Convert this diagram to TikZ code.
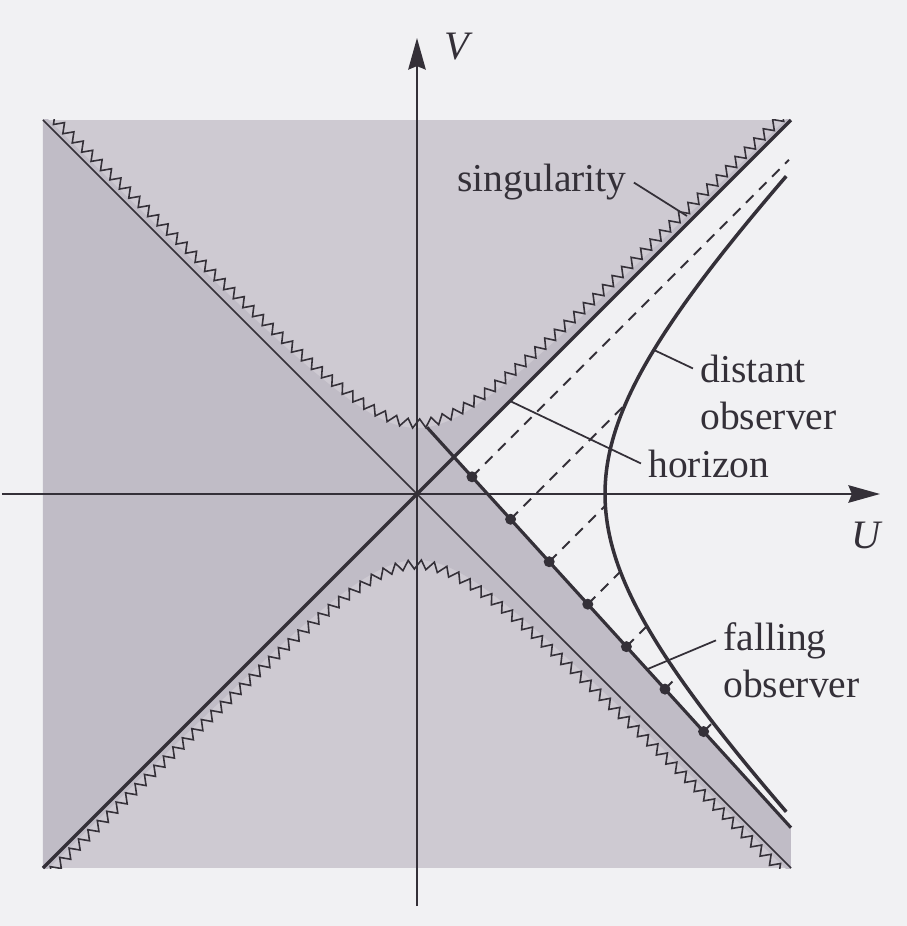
\documentclass[tikz,border=0pt]{standalone}
\usepackage{fontspec}
\setmainfont{Liberation Serif}
\usetikzlibrary{arrows.meta,decorations.pathmorphing,positioning}
\definecolor{ink}{RGB}{52,48,56}
\definecolor{paper}{RGB}{241,241,243}
\definecolor{greylight}{RGB}{206,202,210}
\definecolor{greydark}{RGB}{192,188,198}

\begin{document}
\begin{tikzpicture}[
  x=2cm, y=2cm,
  font=\fontsize{22.5}{26.6}\selectfont,
  axis/.style={draw=ink, line width=0.9pt, -{Stealth[length=18pt, width=10pt, inset=2pt]}},
  hline/.style={draw=ink, line width=2pt},
  pline/.style={draw=ink, line width=1pt},
  wline/.style={draw=ink, line width=1.8pt},
  ray/.style={draw=ink, line width=1.1pt, dash pattern=on 6pt off 4.5pt},
  lead/.style={draw=ink, line width=1pt},
  sing/.style={draw=ink, line width=0.9pt, decorate,
               decoration={zigzag, segment length=7.5pt, amplitude=2.6pt, raise=2.6pt}},
  lbl/.style={text=ink, inner xsep=4pt, inner ysep=0pt, anchor=base west}
]
\fill[paper] (-4.17,-4.32) rectangle (4.90,4.94);
\useasboundingbox (-4.17,-4.32) rectangle (4.90,4.94);

\fill[greylight] (-3.74,-3.74) rectangle (3.74,3.74);
\begin{scope}
  \clip (-3.74,-3.74) rectangle (3.74,3.74);
  \fill[greydark] plot[domain=-3.8:3.8, samples=60, smooth] (\x,{sqrt(\x*\x+0.4356)})
     -- plot[domain=3.8:-3.8, samples=60, smooth] (\x,{-sqrt(\x*\x+0.4356)}) -- cycle;
\end{scope}
\fill[paper] (0.37,0.37) -- (3.74,3.74) -- (3.74,-3.337) -- cycle;

\draw[axis] (0,-4.12) -- (0,4.56);
\draw[axis] (-4.15,0) -- (4.63,0);
\node[lbl, anchor=center, font=\fontsize{23}{27}\selectfont\itshape] (vl) at (0.40,4.47) {V};
\node[lbl, anchor=center, font=\fontsize{23}{27}\selectfont\itshape] (ul) at (4.49,-0.41) {U};

\draw[pline] (-3.74,3.74) -- (3.74,-3.74);
\draw[hline] (-3.74,-3.74) -- (3.74,3.74);

\begin{scope}
  \clip (-3.74,-3.74) rectangle (3.74,3.74);
  \draw[sing] plot[domain=-3.8:3.8, samples=121] (\x,{sqrt(\x*\x+0.4356)});
  \draw[sing] plot[domain=3.8:-3.8, samples=121] (\x,{-sqrt(\x*\x+0.4356)});
\end{scope}

\draw[hline] plot[domain=-1.296:1.296, samples=60, smooth] ({1.88*cosh(\x)},{1.88*sinh(\x)});

\coordinate (fs) at (0.1,0.667);
\coordinate (fe) at (3.74,-3.337);
\draw[wline] (fs) -- (fe);

\foreach \k in {0,...,6} {
  \pgfmathsetmacro\u{0.55+0.386*\k}
  \pgfmathsetmacro\v{0.777-1.1*\u}
  \pgfmathsetmacro\c{\u-\v}
  \pgfmathsetmacro\s{3.5344/\c}
  \coordinate (d\k) at (\u,\v);
  \ifnum\k=0
    \coordinate (r\k) at (3.72,{3.72-\c});
  \else
    \coordinate (r\k) at ({(\s+\c)/2},{(\s-\c)/2});
  \fi
  \draw[ray] (d\k) -- (r\k);
  \fill[ink] (d\k) circle (0.055);
}

\node[lbl] (sg) at (0.33,3.02) {singularity};
\coordinate (sgp) at (2.70,2.78);
\draw[lead] (sg.east) -- (sgp);

\node[lbl] (dst) at (2.76,1.12) {distant};
\node[lbl] (dob) at (2.76,0.65) {observer};
\coordinate (dop) at (2.37,1.44);
\draw[lead] (dop) -- (dst.west);

\node[lbl] (hz) at (2.24,0.17) {horizon};
\coordinate (hzp) at (0.93,0.93);
\draw[lead] (hzp) -- (hz.west);

\node[lbl] (fal) at (2.99,-1.56) {falling};
\node[lbl] (fob) at (2.99,-2.03) {observer};
\coordinate (fop) at (2.30,-1.753);
\draw[lead] (fop) -- (fal.west);
\end{tikzpicture}
\end{document}
